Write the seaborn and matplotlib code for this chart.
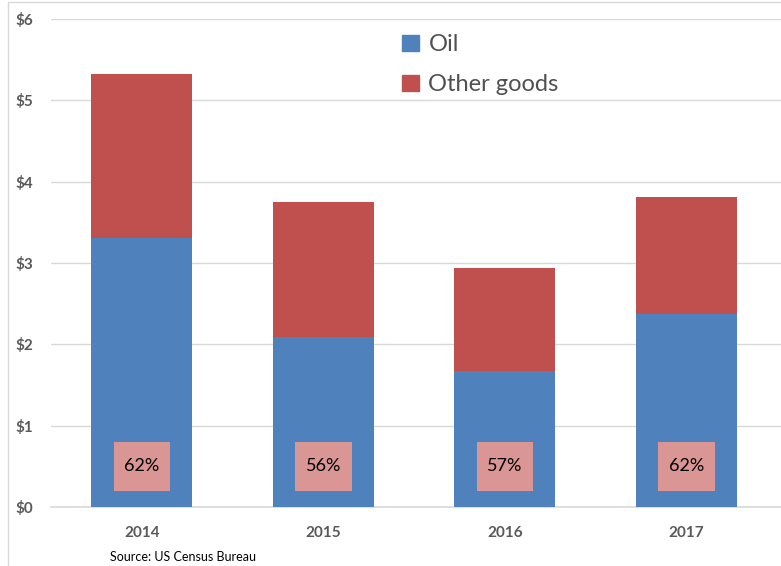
import matplotlib
matplotlib.use("Agg")
import matplotlib.pyplot as plt
import seaborn as sns
import pandas as pd
from matplotlib.lines import Line2D
from matplotlib.patches import Patch

years = ["2014", "2015", "2016", "2017"]
oil = [3.31, 2.09, 1.67, 2.37]
other = [2.01, 1.66, 1.27, 1.44]
pct_labels = ["62%", "56%", "57%", "62%"]
yticks = [0, 1, 2, 3, 4, 5, 6]
ytick_labels = ["$0", "$1", "$2", "$3", "$4", "$5", "$6"]

sns.set_theme(style="white")
plt.rcParams["font.family"] = ["Lato", "DejaVu Sans"]

BLUE = "#4F81BD"
RED = "#C0504D"
PINK = "#DA9694"
GRID = "#D9D9D9"
TXT = "#595959"

total = [o + t for o, t in zip(oil, other)]
df = pd.DataFrame({"year": years, "oil": oil, "total": total,
                   "box_h": [0.6] * 4})

fig = plt.figure(figsize=(7.81, 5.66), dpi=100)
ax = fig.add_axes([51 / 781, 1 - 507 / 566, 730 / 781, (507 - 19) / 566])

sns.barplot(data=df, x="year", y="total", color=RED, width=0.556,
            saturation=1, ax=ax, zorder=3, linewidth=0)
sns.barplot(data=df, x="year", y="oil", color=BLUE, width=0.556,
            saturation=1, ax=ax, zorder=4, linewidth=0)
# label boxes
ax.bar(range(len(years)), df["box_h"], bottom=0.2, width=0.31, color=PINK,
       zorder=5, linewidth=0)
for i, lab in enumerate(pct_labels):
    ax.text(i, 0.5, lab, ha="center", va="center", fontsize=13,
            color="black", zorder=6)

ax.set_xlim(-0.5, 3.52)
ax.set_ylim(0, 6)
ax.set_yticks(yticks)
ax.set_yticklabels(ytick_labels, fontsize=11, fontweight="bold", color=TXT)
ax.set_xticks(range(len(years)))
ax.set_xticklabels(years, fontsize=11, fontweight="bold", color=TXT)
ax.tick_params(axis="x", length=0, pad=14)
ax.tick_params(axis="y", length=0, pad=13)
ax.set_xlabel("")
ax.set_ylabel("")
ax.yaxis.grid(True, color=GRID, linewidth=1, zorder=0)
ax.set_axisbelow(True)
for s in ["top", "right", "left"]:
    ax.spines[s].set_visible(False)
ax.spines["bottom"].set_color(GRID)
ax.spines["bottom"].set_linewidth(1.2)

handles = [Patch(color=BLUE, label="Oil"), Patch(color=RED, label="Other goods")]
leg = ax.legend(handles=handles, loc="upper left",
                bbox_to_anchor=((393 - 51) / 730, (507 - 25) / 488),
                frameon=False, fontsize=17, handlelength=0.7, handleheight=0.7,
                handletextpad=0.4, labelspacing=0.8, borderaxespad=0)
for t in leg.get_texts():
    t.set_color("#505050")

fig.text(110 / 781, 1 - 557 / 566, "Source: US Census Bureau", fontsize=9,
         color="black", va="center")

# chart border fragments
fig.add_artist(Line2D([8 / 781, 8 / 781], [0, 1 - 2 / 566], color=GRID, lw=1))
fig.add_artist(Line2D([8 / 781, 1], [1 - 2 / 566, 1 - 2 / 566], color=GRID, lw=1))

fig.savefig("out.png", dpi=100)
